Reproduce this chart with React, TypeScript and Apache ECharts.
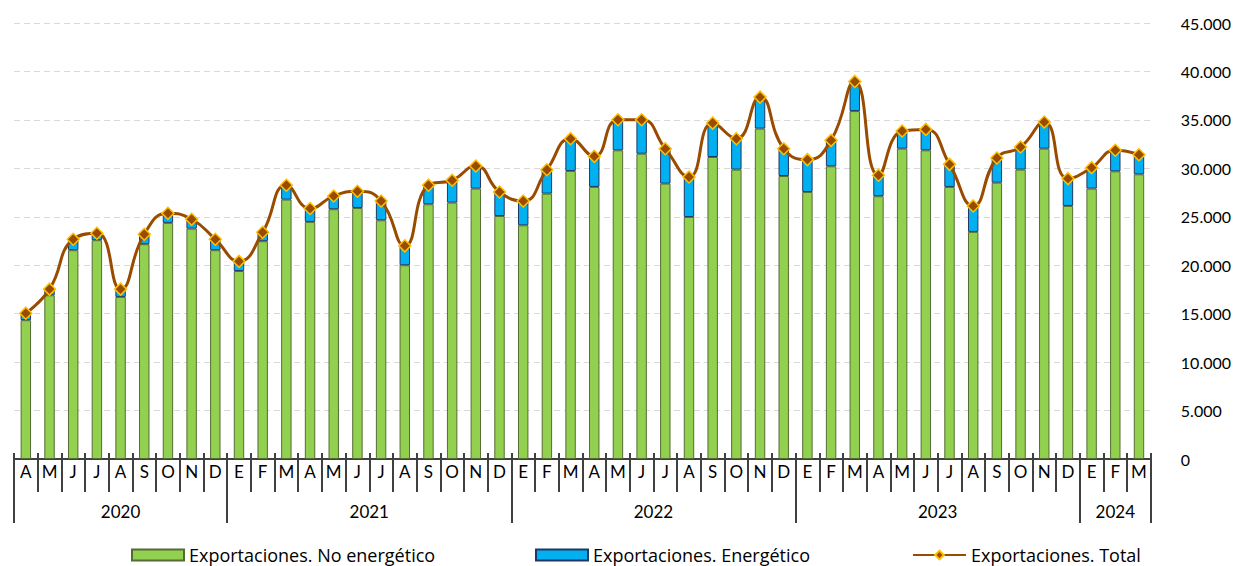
import React, { useEffect, useRef } from "react";
import * as echarts from "echarts";

const months = [
  "A", "M", "J", "J", "A", "S", "O", "N", "D",
  "E", "F", "M", "A", "M", "J", "J", "A", "S", "O", "N", "D",
  "E", "F", "M", "A", "M", "J", "J", "A", "S", "O", "N", "D",
  "E", "F", "M", "A", "M", "J", "J", "A", "S", "O", "N", "D",
  "E", "F", "M",
];
const yearLabels = ["2020", "2021", "2022", "2023", "2024"];
const yearSpans = [9, 12, 12, 12, 3];

const nonEnergy = [
  14330, 16900, 21550, 22580, 16730, 22170, 24370, 23780, 21550,
  19400, 22480, 26770, 24470, 25780, 25910, 24640, 20000, 26290, 26460, 27910, 25080,
  24120, 27390, 29730, 28080, 31860, 31510, 28420, 24980, 31170, 29870, 34100, 29210,
  27560, 30210, 35910, 27120, 32030, 31860, 28080, 23440, 28520, 29870, 32030, 26120,
  27910, 29690, 29380,
];
const energy = [
  720, 630, 1130, 720, 800, 1030, 990, 960, 1130,
  1000, 920, 1480, 1380, 1370, 1720, 1990, 2000, 1960, 2310, 2330, 2480,
  2510, 2470, 3330, 3160, 3160, 3510, 3610, 4120, 3500, 3190, 3250, 2820,
  3340, 2680, 3060, 2160, 1820, 2160, 2330, 2680, 2550, 2330, 2750, 2820,
  2160, 2170, 2030,
];
const total = nonEnergy.map((v, i) => v + energy[i]);

const FONT = "Lato, 'Open Sans', sans-serif";
const LFONT = "'Open Sans', Lato, sans-serif";

export default function App() {
  const ref = useRef<HTMLDivElement>(null);
  useEffect(() => {
    if (!ref.current) return;
    const chart = echarts.init(ref.current, undefined, { renderer: "svg" });

    const n = months.length * 2 + 1;
    const yearData: string[] = [];
    for (let i = 0; i < n; i++) yearData.push("\u200b" + i);
    const boundaries: number[] = [0];
    let cum = 0;
    yearSpans.forEach((s, i) => {
      yearData[cum * 2 + s] = yearLabels[i];
      cum += s;
      boundaries.push(cum * 2);
    });

    const fmt = (v: number) => String(v).replace(/\B(?=(\d{3})+(?!\d))/g, ".");
    const legendText = { fontSize: 18, color: "#000", fontFamily: LFONT };

    chart.setOption({
      animation: false,
      textStyle: { fontFamily: FONT },
      grid: { left: 14, right: 81, top: 23, bottom: 107, containLabel: false },
      legend: [
        {
          data: [{ name: "Exportaciones. No energético", icon: "rect" }],
          left: 131, top: 546, padding: 0, itemWidth: 52, itemHeight: 11,
          textStyle: legendText,
        },
        {
          data: [{ name: "Exportaciones. Energético", icon: "rect" }],
          left: 535, top: 546, padding: 0, itemWidth: 52, itemHeight: 11,
          textStyle: legendText,
        },
        {
          data: ["Exportaciones. Total"],
          left: 912, top: 546, padding: 0, itemWidth: 53, itemHeight: 11,
          textStyle: legendText,
        },
      ],
      xAxis: [
        {
          type: "category",
          data: months,
          position: "bottom",
          boundaryGap: true,
          axisLine: { show: true, lineStyle: { color: "#404040", width: 2 } },
          axisTick: { show: true, interval: 0, alignWithLabel: false, length: 33, lineStyle: { color: "#404040", width: 2 } },
          axisLabel: { interval: 0, fontSize: 17, color: "#000", margin: 4, fontFamily: FONT },
          splitLine: { show: false },
        },
        {
          type: "category",
          data: yearData,
          position: "bottom",
          boundaryGap: false,
          axisLine: { show: false },
          axisTick: {
            show: true,
            interval: (i: number) => boundaries.indexOf(i) >= 0,
            length: 64,
            lineStyle: { color: "#404040", width: 2 },
          },
          axisLabel: {
            interval: (i: number) => yearLabels.indexOf(yearData[i]) >= 0,
            fontSize: 17, color: "#000", margin: 44, fontFamily: FONT,
          },
          splitLine: { show: false },
        },
        {
          type: "category",
          data: months,
          position: "bottom",
          boundaryGap: true,
          axisLine: { show: false },
          axisTick: { show: true, inside: true, interval: 0, length: 6, lineStyle: { color: "#404040", width: 2 } },
          axisLabel: { show: false },
          splitLine: { show: false },
        },
      ],
      yAxis: {
        type: "value",
        position: "right",
        min: 0,
        max: 45000,
        interval: 5000,
        axisLine: { show: false },
        axisTick: { show: false },
        axisLabel: { fontSize: 16, color: "#000", margin: 30, formatter: fmt, fontFamily: FONT },
        splitLine: { show: true, lineStyle: { color: "#D9D9D9", type: [6, 4], width: 1 } },
      },
      series: [
        {
          name: "Exportaciones. No energético",
          type: "bar",
          stack: "exp",
          data: nonEnergy,
          barWidth: "44%",
          itemStyle: { color: "#92D050", borderColor: "#566B33", borderWidth: 1 },
        },
        {
          name: "Exportaciones. Energético",
          type: "bar",
          stack: "exp",
          data: energy,
          barWidth: "44%",
          itemStyle: { color: "#00B0F0", borderColor: "#1F3864", borderWidth: 1 },
        },
        {
          name: "Exportaciones. Total",
          type: "line",
          data: total,
          smooth: 0.5,
          z: 5,
          symbol: "diamond",
          symbolSize: 12,
          lineStyle: { color: "#994C00", width: 3 },
          itemStyle: { color: "#994C00", borderColor: "#FFC000", borderWidth: 1.5 },
        },
      ],
    });
    return () => chart.dispose();
  }, []);
  return (
    <div
      ref={ref}
      style={{ position: "absolute", left: 0, top: 0, width: 1234, height: 566 }}
    />
  );
}
